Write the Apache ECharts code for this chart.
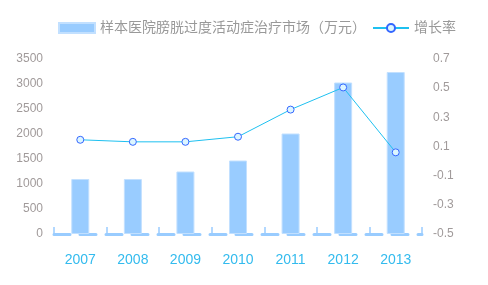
<!DOCTYPE html>
<html><head><meta charset="utf-8">
<script src="https://cdn.jsdelivr.net/npm/echarts@6/dist/echarts.min.js"></script>
<style>html,body{margin:0;padding:0;background:#fff}#c{width:488px;height:285px}</style>
</head><body><div id="c"></div>
<script>
var categories = ['2007','2008','2009','2010','2011','2012','2013'];
var marketValues = [1100, 1100, 1250, 1470, 2010, 3030, 3240];
var growthRates = [0.146, 0.132, 0.132, 0.167, 0.353, 0.505, 0.06];
var rightTickLabels = ['-0.5','-0.3','-0.1','0.1','0.3','0.5','0.7'];
var barName = '样本医院膀胱过度活动症治疗市场（万元）';
var lineName = '增长率';

var font = "'Liberation Sans', 'Noto Sans CJK SC', sans-serif";
var chart = echarts.init(document.getElementById('c'));
chart.setOption({
  animation: false,
  textStyle: {fontFamily: font},
  legend: {
    top: 16, left: 53,
    itemWidth: 36, itemHeight: 10, itemGap: 6,
    textStyle: {fontSize: 14, color: '#999', fontFamily: font},
    data: [
      {name: barName, icon: 'rect'},
      {name: lineName}
    ]
  },
  grid: {left: 54, right: 66, top: 59, bottom: 51},
  xAxis: {
    type: 'category', data: categories,
    axisLine: {lineStyle: {color: '#99ccff', width: 3, type: [16, 10]}},
    axisTick: {show: true, inside: true, length: 7, lineStyle: {color: '#99ccff', width: 1.5}},
    axisLabel: {color: '#33bbee', fontSize: 14, margin: 19}
  },
  yAxis: [
    {type: 'value', min: 0, max: 3500, interval: 500, position: 'left',
     axisLine: {show: false}, axisTick: {show: false}, splitLine: {show: false},
     axisLabel: {color: '#a09a9a', fontSize: 12, margin: 11, formatter: function (v) { return String(v); }}},
    {type: 'category', data: rightTickLabels, boundaryGap: false, position: 'right',
     axisLine: {show: false}, axisTick: {show: false}, splitLine: {show: false},
     axisLabel: {color: '#a09a9a', fontSize: 12, margin: 11}},
    {type: 'value', min: -0.5, max: 0.7, show: false, position: 'right',
     splitLine: {show: false}}
  ],
  series: [
    {name: barName, type: 'bar', data: marketValues, yAxisIndex: 0, barWidth: 18,
     itemStyle: {color: '#99ccff', borderColor: '#c2e0ff', borderWidth: 1}},
    {name: lineName, type: 'line', data: growthRates, yAxisIndex: 2,
     symbol: 'circle', symbolSize: 7,
     lineStyle: {color: '#1ec0f0', width: 1},
     itemStyle: {color: '#ddf6ff', borderColor: '#3366ff', borderWidth: 1}}
  ]
});
</script></body></html>
